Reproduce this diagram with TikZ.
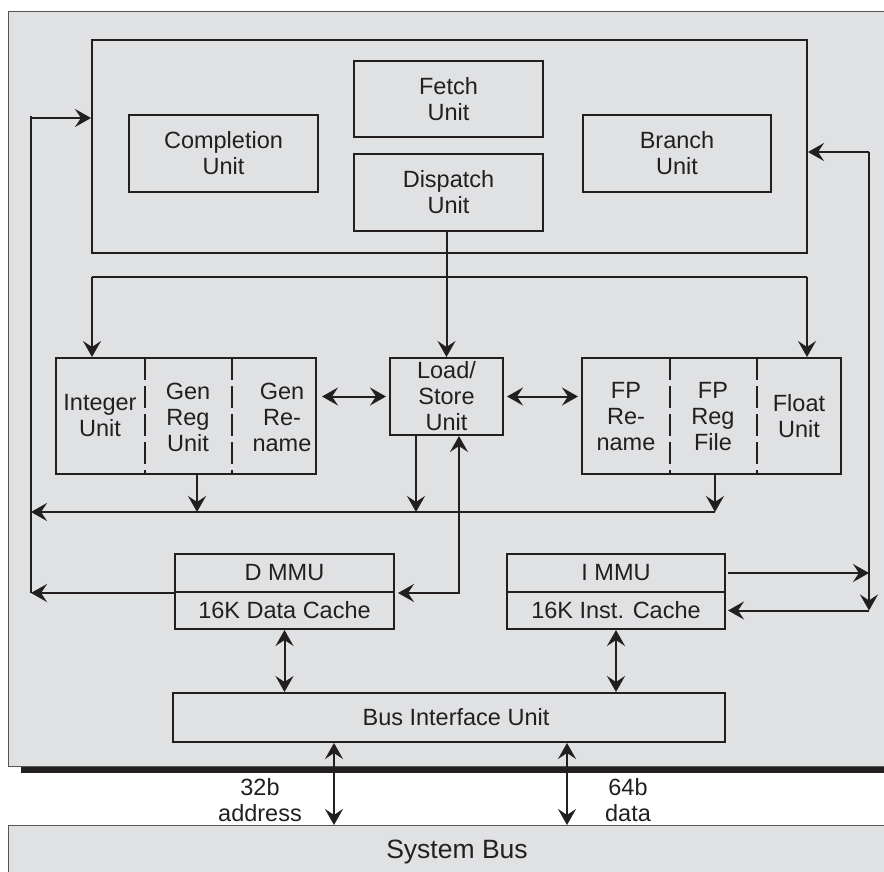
\documentclass[tikz,border=0pt]{standalone}
\usepackage{fontspec}
\setmainfont{Liberation Sans}
\usetikzlibrary{arrows.meta,calc}
\definecolor{panel}{RGB}{224,225,227}
\definecolor{ink}{RGB}{35,31,32}
\definecolor{rim}{RGB}{85,85,85}
\begin{document}
\begin{tikzpicture}[x=1pt,y=-1pt,
  blk/.style={draw=ink, line width=2pt, fill=panel, inner sep=0pt, align=center, font=\fontsize{23.5}{26}\selectfont, text=ink},
  txt/.style={inner sep=0pt, align=center, font=\fontsize{23.5}{26}\selectfont, text=ink},
  wire/.style={draw=ink, line width=2pt},
  arr/.style={wire, -{Stealth[length=16pt,width=18pt,inset=6pt]}},
  arr2/.style={wire, {Stealth[length=16pt,width=18pt,inset=6pt]}-{Stealth[length=16pt,width=18pt,inset=6pt]}},
  divider/.style={draw=ink, line width=2pt, dash pattern=on 22pt off 6pt}]
\useasboundingbox (0,0) rectangle (884,872);
% chip panel with shadow
\fill[ink] (21,766) rectangle (900,773);
\filldraw[fill=panel, draw=rim, line width=0.8pt] (8,11) rectangle (900,766);
% system bus
\node[draw=rim, line width=0.8pt, fill=panel, anchor=north west, minimum width=900pt, minimum height=70pt, inner sep=0pt] (sysbus) at (8,825) {};
\node[txt, font=\fontsize{26.5}{30}\selectfont] (sysbuslbl) at (457,852) {System Bus};

% core container
\node[blk, minimum width=715pt, minimum height=213pt] (core) at (449.5,146.5) {};
\node[blk, minimum width=189pt, minimum height=77pt] (compl) at (223.5,153.5) {Completion\\Unit};
\node[blk, minimum width=189pt, minimum height=76pt] (fetch) at (448.5,99) {Fetch\\Unit};
\node[blk, minimum width=189pt, minimum height=77pt] (dispatch) at (448.5,192.5) {Dispatch\\Unit};
\node[blk, minimum width=188pt, minimum height=77pt] (branch) at (677,153.5) {Branch\\Unit};

% integer group
\node[blk, minimum width=260pt, minimum height=116pt] (intgrp) at (186,416) {};
\draw[divider] (145,358) -- (145,474);
\draw[divider] (232,358) -- (232,474);
\node[txt] (intu) at (100,416) {Integer\\Unit};
\node[txt] (genreg) at (188,417) {Gen\\Reg\\Unit};
\node[txt] (genren) at (282,417) {Gen\\Re-\\name};

% load/store
\node[blk, minimum width=113pt, minimum height=77pt] (ls) at (446.5,396.5) {Load/\\Store\\Unit};

% fp group
\node[blk, minimum width=259pt, minimum height=116pt] (fpgrp) at (711.5,416) {};
\draw[divider] (670,358) -- (670,474);
\draw[divider] (757,358) -- (757,474);
\node[txt] (fpren) at (626,417) {FP\\Re-\\name};
\node[txt] (fpreg) at (713,417) {FP\\Reg\\File};
\node[txt] (floatu) at (799,416) {Float\\Unit};

% MMUs and caches
\node[blk, minimum width=219pt, minimum height=38pt] (dmmu) at (284.5,573) {D MMU};
\node[blk, minimum width=219pt, minimum height=37pt] (dcache) at (284.5,610.5) {16K Data Cache};
\node[blk, minimum width=218pt, minimum height=38pt] (immu) at (616,573) {I MMU};
\node[blk, minimum width=218pt, minimum height=37pt] (icache) at (616,610.5) {16K Inst. Cache};

% bus interface unit
\node[blk, minimum width=552pt, minimum height=49pt] (biu) at (449,717.5) {};
\node[txt] (biulbl) at (456,717.5) {Bus Interface Unit};

% labels on system bus links
\node[txt] (addr) at (260,800) {32b\\address};
\node[txt] (data) at (628,800) {64b\\data};

% dispatch to units
\draw[arr] (ls.north |- dispatch.south) -- (ls.north);
\coordinate (dl) at (92,277);
\coordinate (dr) at (807,277);
\draw[wire] (dl) -- (dr);
\draw[arr] (dl) -- (dl |- intgrp.north);
\draw[arr] (dr) -- (dr |- fpgrp.north);

% horizontal links to load/store
\draw[arr2] ($(ls.west -| intgrp.east)+(5,0)$) -- ($(ls.west)+(-3,0)$);
\draw[arr2] ($(ls.east)+(3,0)$) -- ($(ls.east -| fpgrp.west)+(-3,0)$);

% result bus
\coordinate (busL) at (31,512);
\coordinate (busR) at (715,512);
\draw[arr] (busR) -- (busL);
\coordinate (xi) at (197,0);
\coordinate (xl) at (416,0);
\draw[arr] (intgrp.south -| xi) -- (busL -| xi);
\draw[arr] (ls.south -| xl) -- (busL -| xl);
\draw[arr] (fpgrp.south -| busR) -- (busR);

% left feedback line
\coordinate (L1) at (31,116);
\coordinate (Ltop) at (31,118);
\draw[wire] (L1) -- (L1 |- dmmu.south);
\draw[arr] (Ltop) -- (Ltop -| core.west);
\draw[arr] (dmmu.south west) -- (dmmu.south west -| L1);

% load/store to D MMU
\coordinate (xs) at (459,0);
\draw[arr2] (ls.south -| xs) -- (xs |- dmmu.south) -- ($(dmmu.south east)+(3,0)$);

% right feedback line
\coordinate (R1) at (869,152);
\draw[arr] (R1) -- (R1 -| core.east);
\draw[arr] (R1) -- (R1 |- icache.east);
\draw[arr] (R1 |- icache.east) -- ($(icache.east)+(2,0)$);
\draw[arr] ($(immu.east)+(2,0)$) -- (immu.east -| R1);

% caches to BIU
\draw[arr2] (dcache.south) -- (dcache.south |- biu.north);
\draw[arr2] (icache.south) -- (icache.south |- biu.north);

% BIU to system bus
\coordinate (xa) at (334,0);
\coordinate (xd) at (567,0);
\draw[arr2] (biu.south -| xa) -- (sysbus.north -| xa);
\draw[arr2] (biu.south -| xd) -- (sysbus.north -| xd);
\end{tikzpicture}
\end{document}
